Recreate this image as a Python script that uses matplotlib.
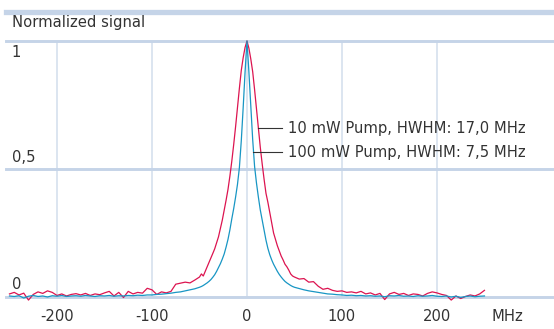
import numpy as np
import matplotlib.pyplot as plt

# frequency grid (MHz): coarse in the tails, finer around the peak
freq = list(range(-250, -49, 5)) + list(range(-48, 49, 2)) + list(range(50, 251, 5))

# 10 mW pump (red)
red_left = [0.012, 0.018, 0.008, 0.015, -0.012, 0.010, 0.020, 0.014, 0.024, 0.018,
            0.006, 0.012, 0.004, 0.010, 0.013, 0.008, 0.014, 0.006, 0.012, 0.009,
            0.016, 0.022, 0.004, 0.018, -0.002, 0.022, 0.012, 0.018, 0.015, 0.034,
            0.028, 0.010, 0.020, 0.016, 0.022, 0.050, 0.054, 0.058, 0.055, 0.066,
            0.078]
red_mid = [0.090, 0.082, 0.100, 0.118, 0.135, 0.152, 0.170, 0.188, 0.212, 0.235,
           0.268, 0.300, 0.338, 0.378, 0.420, 0.472, 0.530, 0.595, 0.665, 0.740,
           0.815, 0.885, 0.935, 0.975, 1.000, 0.972, 0.930, 0.880, 0.810, 0.735,
           0.660, 0.585, 0.520, 0.460, 0.405, 0.370, 0.330, 0.290, 0.250, 0.225,
           0.200, 0.180, 0.160, 0.145, 0.128, 0.118, 0.105, 0.090, 0.082]
red_right = [0.078, 0.070, 0.072, 0.058, 0.060, 0.042, 0.030, 0.034, 0.026, 0.022,
             0.024, 0.018, 0.020, 0.016, 0.022, 0.012, 0.016, 0.008, 0.014, -0.010,
             0.012, 0.018, 0.010, 0.014, 0.006, 0.012, 0.010, 0.004, 0.014, 0.020,
             0.016, 0.010, 0.006, -0.012, 0.004, -0.006, 0.002, 0.008, 0.004, 0.012,
             0.026]
red = red_left + red_mid + red_right

# 100 mW pump (blue)
blue_left = [0.004, 0.002, 0.005, -0.004, 0.003, 0.006, 0.002, 0.004, 0.000, 0.005,
             0.003, 0.006, 0.002, 0.004, 0.005, 0.003, 0.006, 0.004, 0.002, 0.005,
             0.004, 0.006, 0.003, 0.005, 0.004, 0.006, 0.005, 0.007, 0.006, 0.008,
             0.008, 0.010, 0.011, 0.013, 0.015, 0.018, 0.020, 0.024, 0.028, 0.032,
             0.038]
blue_mid = [0.041, 0.045, 0.050, 0.055, 0.061, 0.068, 0.077, 0.087, 0.100, 0.115,
            0.130, 0.148, 0.168, 0.195, 0.225, 0.262, 0.305, 0.345, 0.390, 0.440,
            0.505, 0.610, 0.740, 0.880, 1.000, 0.880, 0.745, 0.615, 0.510, 0.445,
            0.390, 0.340, 0.300, 0.258, 0.222, 0.190, 0.165, 0.145, 0.128, 0.114,
            0.100, 0.088, 0.078, 0.069, 0.061, 0.055, 0.050, 0.045, 0.041]
blue_right = [0.038, 0.033, 0.028, 0.024, 0.021, 0.018, 0.015, 0.012, 0.011, 0.009,
              0.008, 0.006, 0.007, 0.005, 0.006, 0.004, 0.005, 0.003, 0.004, 0.001,
              0.005, 0.004, 0.006, 0.003, 0.004, 0.002, 0.005, 0.003, 0.004, 0.006,
              0.003, 0.002, 0.004, 0.000, 0.003, -0.002, 0.002, 0.004, 0.001, 0.003,
              0.004]
blue = blue_left + blue_mid + blue_right

xticks = [-200, -100, 0, 100, 200]
xtick_labels = ['-200', '-100', '0', '100', '200']
yticks = [0, 0.5, 1]
ytick_labels = ['0', '0,5', '1']
labels = ['10 mW Pump, HWHM: 17,0 MHz', '100 mW Pump, HWHM: 7,5 MHz']

RED = '#dc1450'
BLUE = '#1896c4'
GRID = '#c5d4e8'
VGRID = '#d6e0ee'
TXT = '#333333'

plt.rcParams['font.family'] = ['DejaVu Sans']
fig = plt.figure(figsize=(5.54, 3.29), dpi=100)
ax = fig.add_axes([0, 0, 1, 1])
ax.set_xlim(-260, 323.2)
ax.set_ylim(-0.125, 1.160)
ax.axis('off')

x0 = -253.7
# grid
for xt in xticks:
    ax.plot([xt, xt], [0, 0.995], color=VGRID, lw=1.2, zorder=1)
for yt in yticks:
    ax.plot([x0, 323.2], [yt, yt], color=GRID, lw=2.1, zorder=1)
ax.plot([x0, 323.2], [1.113, 1.113], color=GRID, lw=3.8, zorder=1)

ax.plot(freq, red, color=RED, lw=0.9, zorder=3)
ax.plot(freq, blue, color=BLUE, lw=0.9, zorder=4)

fs = 10.6
ax.text(-247.5, 1.072, 'Normalized signal', fontsize=fs, color=TXT, va='center', ha='left')
ax.text(-247.5, 0.955, ytick_labels[2], fontsize=fs, color=TXT, va='center', ha='left')
ax.text(-247.5, 0.545, ytick_labels[1], fontsize=fs, color=TXT, va='center', ha='left')
ax.text(-247.5, 0.050, ytick_labels[0], fontsize=fs, color=TXT, va='center', ha='left')
for xt, lab in zip(xticks, xtick_labels):
    ax.text(xt, -0.078, lab, fontsize=fs, color=TXT, va='center', ha='center')
ax.text(274, -0.078, 'MHz', fontsize=fs, color=TXT, va='center', ha='center')

# labels with leader lines
ax.plot([11.5, 37], [0.66, 0.66], color=TXT, lw=0.8, zorder=5)
ax.text(43, 0.66, labels[0], fontsize=fs, color=TXT, va='center', ha='left')
ax.plot([6.5, 37], [0.565, 0.565], color=TXT, lw=0.8, zorder=5)
ax.text(43, 0.565, labels[1], fontsize=fs, color=TXT, va='center', ha='left')

fig.savefig('out.png', dpi=100, facecolor='white')
